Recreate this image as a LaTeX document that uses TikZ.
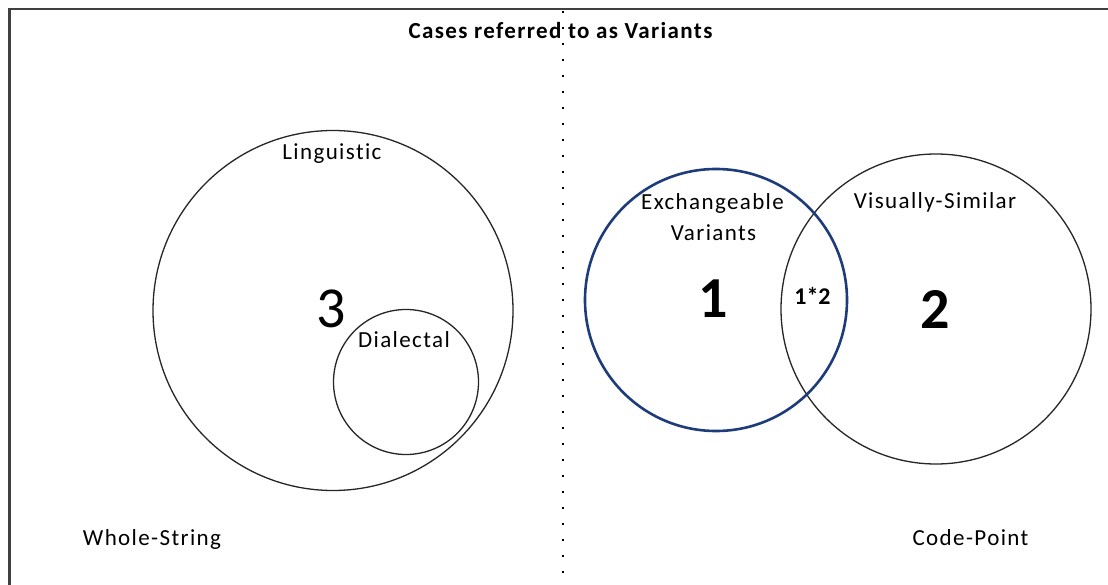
\documentclass[tikz,border=0pt]{standalone}
\usepackage{fontspec}
\setmainfont{Carlito}[LetterSpace=6, Ligatures={NoCommon}]
\definecolor{ringblue}{HTML}{1F3C7A}
\definecolor{framegray}{HTML}{404040}
\tikzset{
  ring/.style={circle, draw=black!85, line width=1.3pt, inner sep=0pt},
  bluering/.style={circle, draw=ringblue, line width=2.6pt, inner sep=0pt},
  lbl/.style={anchor=base, inner sep=0pt, font=\fontsize{23}{27}\selectfont},
  bignum/.style={anchor=base, inner sep=0pt, font=\fontsize{58}{60}\selectfont},
  bigbold/.style={anchor=base, inner sep=0pt, font=\fontsize{58}{60}\selectfont\bfseries},
  midbold/.style={anchor=base, inner sep=0pt, font=\fontsize{24}{28}\selectfont\bfseries\addfontfeature{LetterSpace=0}},
  ttl/.style={anchor=base, inner sep=0pt, font=\fontsize{23}{27}\selectfont\bfseries},
}
\begin{document}
\begin{tikzpicture}[x=1pt, y=-1pt]
\useasboundingbox (0,0) rectangle (1108,585);
\fill[white] (0,0) rectangle (1108,585);
% frame (top and left edges)
\coordinate (fbl) at (9.5,585);
\coordinate (ftl) at (9.5,9);
\coordinate (ftr) at (1108,9);
\draw[framegray, line width=2.4pt] (fbl) -- (ftl) -- (ftr);
% dotted divider
\coordinate (dtop) at (563,11);
\coordinate (dbot) at (563,585);
\draw[black, line width=2pt, dash pattern=on 1.6pt off 14.4pt] (dtop) -- (dbot);
% title
\node[ttl] (title) at (560.5,39) {Cases referred to as Variants};
% left: linguistic / dialectal
\node[ring, minimum size=360pt] (ling) at (333,310.5) {};
\node[ring, minimum size=145pt] (dial) at (406,382) {};
\node[lbl] (lingl) at (332,160) {Linguistic};
\node[bignum] (three) at (331.5,327) {3};
\node[lbl] (diall) at (404,347) {Dialectal};
\node[lbl] (whole) at (152,545) {Whole-String};
% right: exchangeable / visually similar
\node[ring, minimum size=310pt] (vis) at (936,309) {};
\node[bluering, minimum size=262pt] (exch) at (716,300) {};
\node[lbl] (exl1) at (712.5,210) {Exchangeable};
\node[lbl] (exl2) at (713.5,241) {Variants};
\node[lbl] (visl) at (935,209) {Visually-Similar};
\node[bigbold] (one) at (713.5,317) {1};
\node[midbold] (onetwo) at (812.5,305) {1*2};
\node[bigbold] (two) at (935,328) {2};
\node[lbl] (code) at (970.5,545) {Code-Point};
\end{tikzpicture}
\end{document}
